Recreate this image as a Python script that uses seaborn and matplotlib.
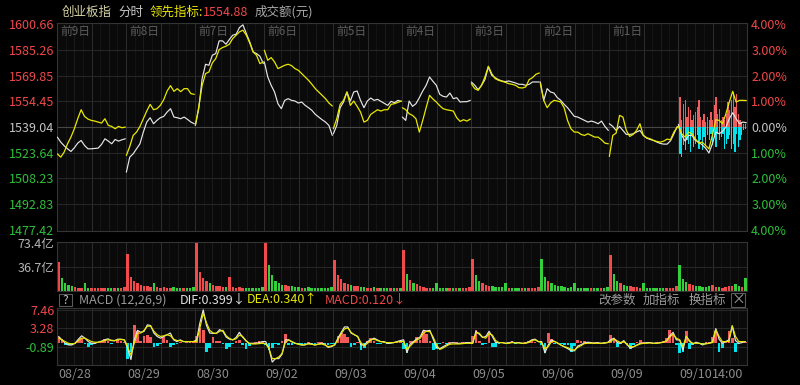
"""
Intraday chart of the ChiNext index (创业板指) over ten sessions:
price / leading indicator, turnover bars and MACD panel.
"""

import numpy as np
import pandas as pd
import matplotlib
matplotlib.use('Agg')
import matplotlib.pyplot as plt
from matplotlib.patches import Rectangle
import seaborn as sns

# ---------------------------------------------------------------- data
PREV_CLOSE = 1539.04
PRICE_TICKS = [1600.66, 1585.26, 1569.85, 1554.45, 1539.04, 1523.64, 1508.23, 1492.83, 1477.42]
DATES = ['08/28', '08/29', '08/30', '09/02', '09/03', '09/04', '09/05', '09/06', '09/09', '09/10']
DAY_TAGS = ['前9日', '前8日', '前7日', '前6日', '前5日', '前4日', '前3日', '前2日', '前1日', '']

# index price (white), 21 samples per session
idx_0828 = [1533.0, 1530.0, 1527.8, 1526.0, 1524.4, 1526.6, 1529.4, 1531.0, 1528.0, 1526.0, 1526.0,
            1526.2, 1526.4, 1528.6, 1532.0, 1530.6, 1529.0, 1531.6, 1530.6, 1531.4, 1532.0]
idx_0829 = [1512.0, 1521.0, 1523.0, 1526.0, 1529.0, 1536.0, 1542.0, 1544.6, 1541.0, 1543.0, 1544.6,
            1545.4, 1548.0, 1550.0, 1545.0, 1544.6, 1544.0, 1545.0, 1543.6, 1542.0, 1541.0]
idx_0830 = [1540.0, 1550.0, 1568.0, 1576.6, 1576.0, 1582.0, 1583.0, 1590.6, 1590.6, 1588.6, 1591.4,
            1594.0, 1594.6, 1598.6, 1600.2, 1595.0, 1590.0, 1584.0, 1583.0, 1581.4, 1577.0]
idx_0902 = [1578.0, 1569.0, 1564.0, 1560.0, 1553.0, 1550.0, 1555.0, 1556.0, 1555.0, 1554.6, 1553.4,
            1554.0, 1552.0, 1550.6, 1549.0, 1546.6, 1545.0, 1543.4, 1542.0, 1540.0, 1534.0]
idx_0903 = [1535.0, 1540.0, 1550.6, 1554.0, 1560.0, 1554.6, 1560.0, 1560.6, 1555.0, 1550.6, 1554.6,
            1556.4, 1555.0, 1555.6, 1554.4, 1553.2, 1552.0, 1554.4, 1553.6, 1555.0, 1554.4]
idx_0904 = [1545.0, 1543.0, 1554.6, 1551.4, 1553.0, 1556.6, 1560.6, 1564.0, 1569.0, 1566.4, 1564.0,
            1558.6, 1557.4, 1557.0, 1559.4, 1556.0, 1556.6, 1554.0, 1554.2, 1554.2, 1555.0]
idx_0905 = [1566.0, 1564.0, 1561.4, 1564.0, 1567.4, 1575.0, 1570.0, 1568.6, 1567.4, 1566.6, 1566.2,
            1566.6, 1566.0, 1565.4, 1564.6, 1564.6, 1564.0, 1564.6, 1566.0, 1566.0, 1566.0]
idx_0906 = [1566.0, 1555.0, 1562.0, 1560.0, 1559.4, 1556.6, 1555.0, 1552.6, 1550.6, 1548.0, 1545.4,
            1545.0, 1544.0, 1543.0, 1542.0, 1542.6, 1542.0, 1541.0, 1542.6, 1539.4, 1537.0]
idx_0909 = [1541.0, 1539.4, 1537.0, 1539.4, 1537.0, 1534.6, 1534.6, 1535.0, 1536.0, 1537.0, 1534.0,
            1532.4, 1531.6, 1531.0, 1530.0, 1529.2, 1528.8, 1528.8, 1530.8, 1535.0, 1539.4]
idx_0910 = [1540.6, 1534.0, 1530.6, 1534.0, 1534.0, 1531.0, 1530.0, 1528.4, 1526.4, 1523.5, 1529.0,
            1536.0, 1535.0, 1536.4, 1539.0, 1544.0, 1547.6, 1544.0, 1541.0, 1542.0, 1541.6]

# leading indicator (yellow)
lead_0828 = [1523.0, 1521.0, 1524.0, 1529.0, 1533.0, 1538.0, 1544.0, 1549.4, 1545.4, 1543.8, 1543.0,
             1542.6, 1542.0, 1541.4, 1544.0, 1540.0, 1539.4, 1538.0, 1539.4, 1538.6, 1539.0]
lead_0829 = [1522.0, 1527.4, 1534.0, 1536.0, 1539.4, 1544.0, 1548.6, 1552.6, 1549.4, 1550.0, 1552.0,
             1555.4, 1560.6, 1563.8, 1560.4, 1562.0, 1560.2, 1562.0, 1562.0, 1559.0, 1558.6]
lead_0830 = [1540.0, 1551.0, 1564.0, 1571.0, 1572.0, 1577.4, 1580.0, 1585.4, 1586.6, 1587.4, 1588.6,
             1592.0, 1594.0, 1596.0, 1597.0, 1594.0, 1589.4, 1584.0, 1582.0, 1577.0, 1578.0]
lead_0902 = [1585.0, 1579.0, 1580.6, 1578.0, 1574.0, 1575.0, 1576.0, 1576.6, 1575.8, 1574.0, 1573.0,
             1571.0, 1569.0, 1567.0, 1564.6, 1562.0, 1560.0, 1558.0, 1556.0, 1553.4, 1551.6]
lead_0903 = [1538.0, 1544.0, 1552.6, 1555.0, 1560.0, 1552.0, 1554.6, 1551.4, 1548.0, 1542.0, 1543.0,
             1546.6, 1548.0, 1549.4, 1548.6, 1549.4, 1549.4, 1552.6, 1553.0, 1553.8, 1554.6]
lead_0904 = [1550.6, 1549.4, 1547.0, 1546.0, 1544.0, 1536.0, 1543.0, 1550.6, 1558.0, 1555.8, 1554.0,
             1551.8, 1550.0, 1549.4, 1549.0, 1548.6, 1544.6, 1542.4, 1543.4, 1542.6, 1543.8]
lead_0905 = [1565.0, 1562.0, 1561.0, 1564.0, 1569.0, 1575.4, 1571.0, 1568.0, 1567.0, 1566.4, 1565.8,
             1565.0, 1564.6, 1564.0, 1562.6, 1562.4, 1563.0, 1567.4, 1568.6, 1570.6, 1571.4]
lead_0906 = [1565.0, 1555.0, 1550.6, 1553.4, 1555.0, 1554.6, 1554.0, 1550.6, 1543.0, 1538.0, 1536.0,
             1536.0, 1534.6, 1534.0, 1535.0, 1534.0, 1533.0, 1533.0, 1531.4, 1529.4, 1529.0]
lead_0909 = [1521.4, 1534.0, 1535.4, 1546.0, 1545.0, 1537.0, 1533.4, 1534.6, 1537.0, 1541.0, 1534.0,
             1532.6, 1532.0, 1531.0, 1530.4, 1530.0, 1530.6, 1531.8, 1531.4, 1536.0, 1539.0]
lead_0910 = [1539.4, 1535.0, 1533.0, 1536.0, 1535.0, 1532.0, 1529.4, 1530.0, 1528.0, 1526.0, 1534.0,
             1543.4, 1543.0, 1541.0, 1547.0, 1554.0, 1560.4, 1554.0, 1555.0, 1555.0, 1554.88]

# today's buy / sell force bars around the previous close (index points)
force_up = [18, 4, 14, 16, 6, 12, 10, 4, 7, 9, 12, 16, 6, 4, 8, 3, 6, 4, 9, 4,
            13, 18, 8, 11, 4, 6, 4, 8, 15, 10, 16, 21, 12, 20, 8, 4, 3, 2, 2]
force_down = [16, 18, 11, 14, 8, 10, 15, 5, 12, 10, 5, 13, 8, 14, 6, 11, 5, 8, 4, 11,
              5, 12, 4, 8, 6, 4, 13, 10, 7, 5, 13, 10, 15, 4, 12, 8, 5, 2, 1]

# turnover (亿元), 21 bars per session
vol_0828 = [45, 20, 13, 9, 7, 6, 5, 5, 12, 5, 4, 5, 4, 4, 5, 4, 4, 5, 4, 4, 6]
vol_0829 = [57, 22, 16, 12, 9, 8, 7, 6, 12, 6, 5, 6, 5, 5, 6, 5, 4, 5, 5, 4, 6]
vol_0830 = [73.4, 30, 20, 15, 12, 10, 8, 7, 6, 6, 22, 6, 5, 6, 5, 5, 5, 4, 5, 4, 6]
vol_0902 = [73.4, 40, 25, 16, 12, 10, 9, 8, 7, 6, 6, 5, 5, 6, 5, 5, 4, 5, 4, 4, 6]
vol_0903 = [48, 25, 18, 13, 11, 9, 8, 7, 6, 6, 5, 5, 6, 5, 5, 5, 4, 4, 5, 4, 5]
vol_0904 = [63, 26, 17, 12, 11, 8, 6, 5, 5, 5, 12, 5, 5, 4, 5, 5, 4, 4, 5, 4, 6]
vol_0905 = [50, 24, 16, 13, 10, 8, 7, 6, 6, 6, 12, 5, 5, 5, 4, 5, 4, 4, 5, 4, 6]
vol_0906 = [50, 22, 16, 12, 9, 8, 7, 6, 5, 6, 12, 5, 5, 5, 5, 4, 5, 4, 4, 5, 6]
vol_0909 = [55, 26, 16, 12, 10, 8, 7, 6, 6, 5, 12, 5, 5, 4, 5, 5, 4, 5, 4, 5, 7]
vol_0910 = [40, 18, 14, 11, 9, 8, 7, 6, 6, 7, 9, 6, 6, 5, 6, 7, 8, 11, 7, 6, 20]
OPEN_UP = [1, 1, 1, 1, 1, 1, 1, 0, 1, 0]

# MACD(12,26,9): DIF, DEA and histogram, 21 samples per session
dif_0828 = [1.43, 0.66, -0.12, -0.50, -0.50, -0.12, 0.81, 1.58, 1.04, 0.27, -0.12, -0.12, 0.12, 0.35, 0.66, 0.89, 0.50, 0.43, 0.81, 0.81, 0.66]
dea_0828 = [1.04, 0.66, 0.27, -0.12, -0.27, -0.12, 0.50, 1.04, 1.04, 0.66, 0.27, 0.12, 0.12, 0.27, 0.50, 0.66, 0.58, 0.50, 0.66, 0.73, 0.66]
bar_0828 = [1.4, 0.8, -0.4, -0.5, -0.5, -0.2, 0.6, 1.0, -0.3, -0.9, -0.6, -0.2, 0.1, 0.2, 0.8, 0.5, -0.2, -0.1, 0.6, 0.3, 0.1]
dif_0829 = [-1.28, -3.80, 0.66, 2.82, 2.36, 2.59, 4.06, 3.90, 2.20, 1.43, 1.04, 1.43, 1.82, 2.20, 0.66, 0.27, 0.66, 0.27, 0.27, 0.27, 0.27]
dea_0829 = [-0.89, -2.82, -0.12, 2.20, 2.20, 2.82, 3.75, 3.75, 2.59, 1.82, 1.43, 1.58, 1.82, 1.58, 0.81, 0.50, 0.50, 0.27, 0.27, 0.27, 0.27]
bar_0829 = [-3.6, -2.0, 4.1, 2.6, 0.5, 1.5, 1.8, 1.2, -0.9, -0.8, -0.3, 1.4, 0.6, -0.9, -0.6, -0.2, 0.2, -0.1, 0.1, 0.2, 0.1]
dif_0830 = [0.66, 4.52, 7.46, 3.90, 2.20, 2.13, 2.13, 2.98, 2.59, 1.28, 0.81, 0.66, 1.20, 2.36, 1.28, 0.43, -0.12, -0.12, -0.12, 0.04, 0.27]
dea_0830 = [0.27, 3.36, 6.69, 4.52, 2.82, 2.20, 2.13, 2.59, 2.82, 1.58, 0.97, 0.66, 0.89, 1.74, 1.43, 0.50, -0.19, -0.27, -0.27, -0.19, -0.12]
bar_0830 = [1.5, 3.4, 3.0, -2.0, -1.2, 1.4, 0.5, 0.4, -0.3, -1.3, -0.9, -0.2, 0.4, 0.7, -0.4, -1.3, -0.8, -0.2, 0.1, 0.3, 0.2]
dif_0902 = [0.27, -1.28, -4.37, -3.59, -3.59, -2.59, 0.66, 0.66, 0.19, -0.12, -0.27, -0.50, -0.50, -0.12, -0.27, -0.50, -0.27, -0.12, -0.35, -1.04, -0.89]
dea_0902 = [-0.27, -1.28, -3.59, -3.59, -3.21, -2.43, 0.04, 0.66, 0.27, -0.12, -0.35, -0.50, -0.43, -0.27, -0.35, -0.50, -0.35, -0.27, -0.50, -0.89, -0.73]
bar_0902 = [-0.5, -1.7, -1.2, -0.3, -0.4, 0.3, 2.0, -0.5, -0.4, -0.2, -0.3, -0.5, -0.3, 0.2, -0.2, -0.3, 0.2, 0.1, -0.2, -0.5, -0.2]
dif_0903 = [-0.50, 1.04, 2.36, 3.59, 3.59, 2.20, 1.82, 1.43, -0.50, -0.50, 0.27, 0.66, 1.04, 0.66, 0.27, 0.27, -0.12, -0.12, 0.04, 0.27, 0.50]
dea_0903 = [-0.50, 0.66, 2.05, 3.13, 3.36, 2.36, 1.82, 1.43, 0.04, -0.73, -0.12, 0.66, 0.81, 0.50, 0.27, 0.12, 0.04, 0.04, 0.04, 0.19, 0.27]
bar_0903 = [-0.3, 1.5, 2.2, 2.0, 1.2, -0.9, -0.4, 0.2, -1.7, -1.2, 0.5, 1.0, 0.5, -0.3, -0.2, 0.1, -0.2, 0.1, 0.2, 0.1, 0.3]
dif_0904 = [0.66, -2.20, -0.27, 0.27, 0.89, 1.28, 2.82, 2.67, 2.82, 0.81, -1.04, -1.35, -0.89, -0.50, -0.12, 0.04, -0.12, -0.12, -0.12, 0.04, 0.04]
dea_0904 = [0.27, -1.51, -0.73, 0.04, 0.66, 0.97, 2.20, 2.59, 2.51, 1.28, -0.50, -1.51, -1.20, -0.73, -0.35, -0.27, -0.27, -0.27, -0.19, -0.12, -0.12]
bar_0904 = [-1.5, -2.4, 0.3, 0.5, 1.4, 0.6, 2.6, 2.0, 0.4, -1.7, -1.5, -0.3, 0.2, -0.2, 0.1, -0.1, 0.1, -0.1, 0.1, 0.2, 0.1]
dif_0905 = [-0.12, 2.59, 1.97, 1.20, 1.43, 2.59, 1.43, 0.04, 0.04, 0.04, -0.12, -0.04, 0.19, -0.04, 0.04, -0.12, -0.12, 0.19, 0.66, 0.81, 0.27]
dea_0905 = [-0.12, 2.20, 2.20, 1.28, 1.04, 2.05, 1.74, 0.50, 0.04, 0.04, -0.12, -0.12, 0.04, -0.04, -0.04, -0.12, -0.12, 0.04, 0.50, 0.66, 0.27]
bar_0905 = [1.5, 3.0, 0.5, -0.5, -0.3, 2.2, -0.9, -0.9, -0.2, 0.2, -0.1, 0.2, 0.4, -0.2, 0.1, -0.2, 0.1, 0.3, 0.5, 0.2, -0.1]
dif_0906 = [0.27, -2.28, -0.50, 0.66, 0.27, -0.12, -0.58, -0.97, -1.35, -1.82, -1.82, -0.73, -0.43, -0.04, 0.12, 0.04, -0.12, 0.04, -0.12, -0.12, 0.04]
dea_0906 = [0.04, -1.35, -0.89, 0.27, 0.27, -0.12, -0.58, -0.89, -1.12, -1.51, -1.66, -1.04, -0.66, -0.19, -0.12, -0.12, -0.12, -0.12, -0.12, -0.04, 0.04]
bar_0906 = [-0.5, -2.4, 2.2, 0.8, -0.2, -0.3, -0.2, -0.4, -0.6, -2.0, -0.8, 0.6, 0.4, 0.3, 0.2, -0.1, 0.1, 0.2, -0.1, 0.1, 0.1]
dif_0909 = [0.66, 1.04, 0.04, -0.12, 0.50, -0.43, -1.20, -0.89, -0.50, -0.12, -0.12, 0.04, 0.04, -0.12, -0.12, 0.04, 0.12, 0.43, 1.58, 2.36, 0.66]
dea_0909 = [0.27, 0.89, 0.43, 0.04, 0.27, -0.43, -0.89, -0.89, -0.58, -0.27, -0.12, -0.12, -0.04, -0.12, -0.12, -0.04, 0.12, 0.43, 1.28, 1.97, 1.04]
bar_0909 = [1.8, 0.8, -0.9, -0.3, 0.5, -0.6, -1.3, -0.4, 0.2, 0.7, 0.2, -0.1, 0.1, -0.1, 0.1, 0.2, 0.3, 1.0, 3.0, 2.0, -0.5]
dif_0910 = [0.66, -1.66, 1.43, 0.50, -0.27, 0.12, -0.12, -0.50, -0.12, -0.12, 0.19, 3.21, 0.81, -0.12, 0.27, 0.66, 3.75, 0.50, -0.12, 0.04, 0.27]
dea_0910 = [0.66, -0.89, 1.43, 0.27, -0.12, -0.12, -0.12, -0.27, -0.27, -0.12, 0.04, 2.98, 1.43, 0.27, 0.27, 0.27, 3.90, 1.43, 0.27, 0.27, 0.27]
bar_0910 = [-2.4, -2.0, 2.6, -1.3, -0.4, 0.2, -0.2, -0.3, 0.2, 0.1, 1.2, 2.6, -2.0, -1.2, 0.3, 2.6, 1.0, -2.0, -0.3, 0.1, 0.2]
MACD_TICKS = [7.46, 3.28, -0.89]

index_days = [idx_0828, idx_0829, idx_0830, idx_0902, idx_0903, idx_0904, idx_0905, idx_0906, idx_0909, idx_0910]
lead_days = [lead_0828, lead_0829, lead_0830, lead_0902, lead_0903, lead_0904, lead_0905, lead_0906, lead_0909, lead_0910]
vol_days = [vol_0828, vol_0829, vol_0830, vol_0902, vol_0903, vol_0904, vol_0905, vol_0906, vol_0909, vol_0910]
dif_days = [dif_0828, dif_0829, dif_0830, dif_0902, dif_0903, dif_0904, dif_0905, dif_0906, dif_0909, dif_0910]
dea_days = [dea_0828, dea_0829, dea_0830, dea_0902, dea_0903, dea_0904, dea_0905, dea_0906, dea_0909, dea_0910]
bar_days = [bar_0828, bar_0829, bar_0830, bar_0902, bar_0903, bar_0904, bar_0905, bar_0906, bar_0909, bar_0910]

# ---------------------------------------------------------------- style
BG = '#000000'
PANEL = '#0a0a0a'
RED = '#f04848'
GREEN = '#2fbf3a'
GRAY = '#a8a8a8'
WHITE = '#e6e6e6'
YELLOW = '#e8e800'
CYAN = '#00e2ec'

sns.set_theme(style='dark', rc={'figure.facecolor': BG, 'axes.facecolor': PANEL})
plt.rcParams['font.family'] = ['Noto Sans CJK SC', 'DejaVu Sans']
plt.rcParams['axes.unicode_minus'] = False

W, H = 800, 385
fig = plt.figure(figsize=(W / 100, H / 100), dpi=100)
fig.patch.set_facecolor(BG)


def panel(top, bottom):
    return fig.add_axes([57 / W, (H - bottom) / H, 690 / W, (bottom - top) / H])


def px(x, y):
    return x / W, 1 - y / H


def dress(ax):
    ax.set_facecolor(PANEL)
    ax.set_xlim(0, 10)
    ax.set_xticks([])
    ax.grid(False)
    ax.tick_params(length=0, pad=2)
    for s in ax.spines.values():
        s.set_color('#343434')
        s.set_linewidth(0.8)
    for k in range(1, 80):
        if k % 4 == 0:
            c = '#2e2e2e'
        elif k % 2 == 0:
            c = '#1c1c1c'
        else:
            c = '#151515'
        ax.axvline(k / 8, color=c, lw=0.7, zorder=0)


ax_main = panel(23, 231)
ax_vol = panel(242, 291)
ax_macd = panel(308, 365)
for a in (ax_main, ax_vol, ax_macd):
    dress(a)

# ---------------------------------------------------------------- main panel
rows = []
for d in range(10):
    xs = d + 0.005 + np.linspace(0, 0.985, len(index_days[d]))
    for x, p, q in zip(xs, index_days[d], lead_days[d]):
        rows.append((d, x, p, q))
df = pd.DataFrame(rows, columns=['day', 'x', 'index', 'lead'])

ax_main.set_ylim(1476.8, 1601.3)
for t in PRICE_TICKS[1:-1]:
    ax_main.axhline(t, color='#474747' if t == PREV_CLOSE else '#262626', lw=0.8, zorder=0)

fx = np.linspace(9.03, 9.975, len(force_up))
ax_main.bar(fx, force_up, bottom=PREV_CLOSE, width=0.019, color='#f05c5c', lw=0, zorder=1)
ax_main.bar(fx, [-v for v in force_down], bottom=PREV_CLOSE, width=0.019, color=CYAN, lw=0, zorder=1)

sns.lineplot(data=df, x='x', y='index', units='day', estimator=None, color=WHITE,
             lw=0.85, ax=ax_main, legend=False, zorder=3)
sns.lineplot(data=df, x='x', y='lead', units='day', estimator=None, color=YELLOW,
             lw=0.9, ax=ax_main, legend=False, zorder=4)
ax_main.set_xlabel('')
ax_main.set_ylabel('')

ax_main.set_yticks(PRICE_TICKS)
ax_main.set_yticklabels([f'{t:.2f}' for t in PRICE_TICKS], fontsize=9)
for lab, t in zip(ax_main.get_yticklabels(), PRICE_TICKS):
    lab.set_color(RED if t > PREV_CLOSE else (GREEN if t < PREV_CLOSE else '#c4c4c4'))

ax_pct = ax_main.twinx()
ax_pct.set_ylim(ax_main.get_ylim())
ax_pct.set_yticks(PRICE_TICKS)
ax_pct.set_yticklabels([f'{abs(t / PREV_CLOSE - 1) * 100:.2f}%' for t in PRICE_TICKS], fontsize=9)
ax_pct.tick_params(length=0, pad=3)
ax_pct.grid(False)
for s in ax_pct.spines.values():
    s.set_visible(False)
for lab, t in zip(ax_pct.get_yticklabels(), PRICE_TICKS):
    lab.set_color(RED if t > PREV_CLOSE else (GREEN if t < PREV_CLOSE else '#c4c4c4'))

for d, tag in enumerate(DAY_TAGS):
    if tag:
        ax_main.text(d + 0.045, 1596.5, tag, color='#5c5c5c', fontsize=8.5, va='center', ha='left')

# ---------------------------------------------------------------- turnover
vx, vh, vc = [], [], []
for d in range(10):
    vals = vol_days[d]
    prices = index_days[d]
    for i, v in enumerate(vals):
        vx.append(d + (i + 0.5) / len(vals))
        vh.append(v)
        up = OPEN_UP[d] if i == 0 else prices[i] >= prices[i - 1]
        vc.append('#f04a4a' if up else '#34d03c')
ax_vol.bar(vx, vh, width=0.036, color=vc, lw=0, zorder=2)
ax_vol.set_ylim(0, 75.4)
ax_vol.axhline(36.7, color='#262626', lw=0.8, zorder=0)
ax_vol.set_yticks([73.4, 36.7])
ax_vol.set_yticklabels(['73.4亿', '36.7亿'], fontsize=9, color='#b4b4b4')

# ---------------------------------------------------------------- MACD
mrows = []
for d in range(10):
    n = len(dif_days[d])
    for i in range(n):
        mrows.append((d + (i + 0.5) / n, dif_days[d][i], dea_days[d][i], bar_days[d][i]))
mdf = pd.DataFrame(mrows, columns=['x', 'dif', 'dea', 'bar'])

ax_macd.set_ylim(-5.04, 7.88)
for t in MACD_TICKS:
    ax_macd.axhline(t, color='#262626', lw=0.8, zorder=0)
ax_macd.bar(mdf['x'], mdf['bar'], width=0.04, lw=0, zorder=2,
            color=[('#f25a5a' if b >= 0 else CYAN) for b in mdf['bar']])
sns.lineplot(data=mdf, x='x', y='dif', color=WHITE, lw=0.85, ax=ax_macd, zorder=3)
sns.lineplot(data=mdf, x='x', y='dea', color=YELLOW, lw=0.85, ax=ax_macd, zorder=4)
ax_macd.set_xlabel('')
ax_macd.set_ylabel('')
ax_macd.set_xlim(0, 10)
ax_macd.set_yticks(MACD_TICKS)
ax_macd.set_yticklabels([f'{t:.2f}' for t in MACD_TICKS], fontsize=9)
for lab, t in zip(ax_macd.get_yticklabels(), MACD_TICKS):
    lab.set_color(RED if t > 0 else GREEN)

# ---------------------------------------------------------------- header texts
fs = 9
fig.text(*px(62, 12), '创业板指', color='#d6d2a2', fontsize=fs, va='center')
fig.text(*px(118, 12), '分时', color='#c8c8c8', fontsize=fs, va='center')
fig.text(*px(150, 12), '领先指标:', color=YELLOW, fontsize=fs, va='center')
fig.text(*px(203, 12), '1554.88', color=RED, fontsize=fs, va='center')
fig.text(*px(255, 12), '成交额(元)', color=GRAY, fontsize=fs, va='center')

fig.patches.append(Rectangle(px(59, 306), 13 / W, 12 / H, transform=fig.transFigure,
                             fill=False, edgecolor='#5a5a5a', lw=0.8))
fig.text(*px(65.5, 300), '?', color='#c0c0c0', fontsize=8.5, va='center', ha='center')
fig.text(*px(79, 300), 'MACD (12,26,9)', color='#9a9a9a', fontsize=fs, va='center')
fig.text(*px(180, 300), 'DIF:0.399↓', color='#e0e0e0', fontsize=fs, va='center')
fig.text(*px(247, 300), 'DEA:0.340↑', color=YELLOW, fontsize=fs, va='center')
fig.text(*px(325, 300), 'MACD:0.120↓', color=RED, fontsize=fs, va='center')
for x, s in [(598, '改参数'), (643, '加指标'), (689, '换指标')]:
    fig.text(*px(x, 300), s, color='#9c9c9c', fontsize=fs, va='center')
fig.patches.append(Rectangle(px(731, 307), 14 / W, 14 / H, transform=fig.transFigure,
                             fill=False, edgecolor='#5a5a5a', lw=0.8))
fig.text(*px(738, 300), '×', color='#9c9c9c', fontsize=10, va='center', ha='center')

for d, lab in enumerate(DATES):
    fig.text(*px(58 + 69 * d, 375), lab, color='#8c8c8c', fontsize=fs, va='center')
fig.text(*px(712, 375), '14:00', color='#8c8c8c', fontsize=fs, va='center')

fig.savefig('out.png', dpi=100, facecolor=BG)
